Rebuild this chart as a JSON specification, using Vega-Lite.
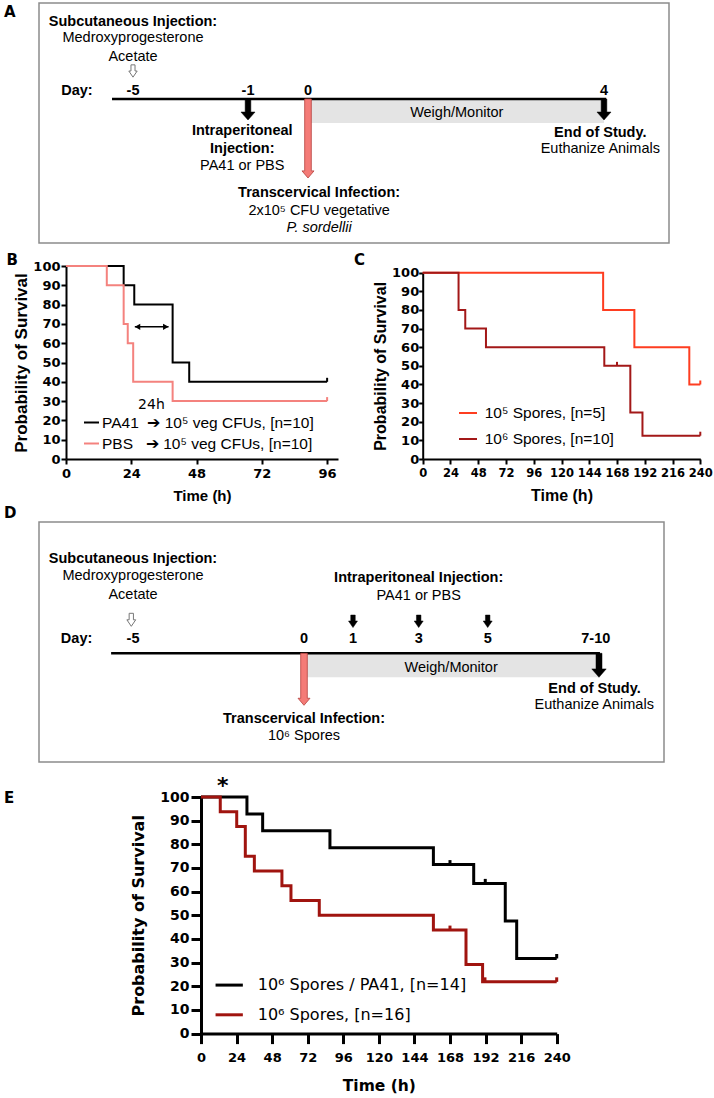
{
"$schema": "https://vega.github.io/schema/vega-lite/v6.json",
"background": "white",
"padding": {"left": 3, "top": 2, "right": 0, "bottom": 0},
"config": {
  "font": "Liberation Sans",
  "view": {"stroke": null},
  "axis": {"grid": false, "domainColor": "black", "tickColor": "black", "labelColor": "black", "titleColor": "black", "labelFlush": false, "labelOverlap": false, "labelBound": false},
  "axisY": {"labelOverlap": false},
  "axisQuantitative": {"labelOverlap": false},
  "legend": {"labelColor": "black"}
},
"datasets": {
  "a_band": [{"d1": 0.04, "d2": 4.0, "v1": 97, "v2": 120}],
  "a_line": [{"d1": -5.73, "d2": 4.03, "v": 96}],
  "a_arrows": [
    {"day": -5, "v": 68, "kind": "open"},
    {"day": -1, "v": 106.5, "kind": "solid"},
    {"day": 4, "v": 106.5, "kind": "solid"},
    {"day": 0, "v": 135.5, "kind": "infection"}
  ],
  "a_text": [
    {"day": -5, "v": 23, "label": "Subcutaneous Injection:", "kind": "bold"},
    {"day": -6.95, "v": 92, "label": "Day:", "kind": "bold"},
    {"day": -5, "v": 92, "label": "-5", "kind": "bold"},
    {"day": -1, "v": 92, "label": "-1", "kind": "bold"},
    {"day": 0, "v": 92, "label": "0", "kind": "bold"},
    {"day": 4, "v": 92, "label": "4", "kind": "bold"},
    {"day": -1.2, "v": 132, "label": "Intraperitoneal", "kind": "bold"},
    {"day": -1.2, "v": 150, "label": "Injection:", "kind": "bold"},
    {"day": 0.15, "v": 194, "label": "Transcervical Infection:", "kind": "bold"},
    {"day": 3.95, "v": 134, "label": "End of Study.", "kind": "bold"},
    {"day": -5, "v": 38.5, "label": "Medroxyprogesterone", "kind": "plain"},
    {"day": -5, "v": 58, "label": "Acetate", "kind": "plain"},
    {"day": -1.2, "v": 167, "label": "PA41 or PBS", "kind": "plain"},
    {"day": 0.15, "v": 212, "label": "2x10⁵ CFU vegetative", "kind": "plain"},
    {"day": 3.95, "v": 150, "label": "Euthanize Animals", "kind": "plain"},
    {"day": 2.01, "v": 114, "label": "Weigh/Monitor", "kind": "plain"},
    {"day": 0.15, "v": 229, "label": "P. sordellii", "kind": "italic"},
    {"day": -9.49, "v": 14, "label": "A", "kind": "panel"}
  ],
  "d_band": [{"d1": 0.06, "d2": 8.5, "v1": 131.3, "v2": 155.3}],
  "d_line": [{"d1": -5.64, "d2": 8.53, "v": 131.3}],
  "d_arrows": [
    {"day": -5.05, "v": 97.8, "kind": "open"},
    {"day": 1, "v": 99.3, "kind": "small"},
    {"day": 3, "v": 99.3, "kind": "small"},
    {"day": 5, "v": 99.3, "kind": "small"},
    {"day": 8.5, "v": 143.3, "kind": "solid"},
    {"day": 0, "v": 157.3, "kind": "infection"}
  ],
  "d_text": [
    {"day": -5, "v": 41.3, "label": "Subcutaneous Injection:", "kind": "bold"},
    {"day": -6.65, "v": 121.3, "label": "Day:", "kind": "bold"},
    {"day": -5, "v": 121.3, "label": "-5", "kind": "bold"},
    {"day": 0, "v": 121.3, "label": "0", "kind": "bold"},
    {"day": 1, "v": 121.3, "label": "1", "kind": "bold"},
    {"day": 3, "v": 121.3, "label": "3", "kind": "bold"},
    {"day": 5, "v": 121.3, "label": "5", "kind": "bold"},
    {"day": 8.4, "v": 121.3, "label": "7-10", "kind": "bold"},
    {"day": 3, "v": 60, "label": "Intraperitoneal Injection:", "kind": "bold"},
    {"day": 8.36, "v": 171.3, "label": "End of Study.", "kind": "bold"},
    {"day": 0, "v": 201.3, "label": "Transcervical Infection:", "kind": "bold"},
    {"day": -5, "v": 58.3, "label": "Medroxyprogesterone", "kind": "plain"},
    {"day": -5, "v": 76.8, "label": "Acetate", "kind": "plain"},
    {"day": 3, "v": 78.3, "label": "PA41 or PBS", "kind": "plain"},
    {"day": 3.94, "v": 150.3, "label": "Weigh/Monitor", "kind": "plain"},
    {"day": 8.35, "v": 187.3, "label": "Euthanize Animals", "kind": "plain"},
    {"day": 0, "v": 218.3, "label": "10⁶ Spores", "kind": "plain"},
    {"day": -8.77, "v": -3.7, "label": "D", "kind": "panel"}
  ],
  "b_curves": [
    {"series": "PA41\u00a0\u00a0➔ 10⁵ veg CFUs, [n=10]", "t": 0, "s": 100},
    {"series": "PA41\u00a0\u00a0➔ 10⁵ veg CFUs, [n=10]", "t": 21.2, "s": 90},
    {"series": "PA41\u00a0\u00a0➔ 10⁵ veg CFUs, [n=10]", "t": 25.1, "s": 80},
    {"series": "PA41\u00a0\u00a0➔ 10⁵ veg CFUs, [n=10]", "t": 39.2, "s": 50},
    {"series": "PA41\u00a0\u00a0➔ 10⁵ veg CFUs, [n=10]", "t": 45.3, "s": 40},
    {"series": "PA41\u00a0\u00a0➔ 10⁵ veg CFUs, [n=10]", "t": 96, "s": 40},
    {"series": "\u00a0PBS\u00a0\u00a0\u00a0➔ 10⁵ veg CFUs, [n=10]", "t": 0, "s": 100},
    {"series": "\u00a0PBS\u00a0\u00a0\u00a0➔ 10⁵ veg CFUs, [n=10]", "t": 15, "s": 90},
    {"series": "\u00a0PBS\u00a0\u00a0\u00a0➔ 10⁵ veg CFUs, [n=10]", "t": 21.2, "s": 70},
    {"series": "\u00a0PBS\u00a0\u00a0\u00a0➔ 10⁵ veg CFUs, [n=10]", "t": 22.7, "s": 60},
    {"series": "\u00a0PBS\u00a0\u00a0\u00a0➔ 10⁵ veg CFUs, [n=10]", "t": 24.7, "s": 40},
    {"series": "\u00a0PBS\u00a0\u00a0\u00a0➔ 10⁵ veg CFUs, [n=10]", "t": 39.2, "s": 30},
    {"series": "\u00a0PBS\u00a0\u00a0\u00a0➔ 10⁵ veg CFUs, [n=10]", "t": 96, "s": 30}
  ],
  "b_censor": [
    {"series": "PA41\u00a0\u00a0➔ 10⁵ veg CFUs, [n=10]", "t": 96, "s": 40},
    {"series": "\u00a0PBS\u00a0\u00a0\u00a0➔ 10⁵ veg CFUs, [n=10]", "t": 96, "s": 30}
  ],
  "b_span": [{"t": 25.3, "t2": 37.7, "s": 68.5}],
  "b_heads": [{"t": 26.3, "s": 68.5, "dir": "left"}, {"t": 36.7, "s": 68.5, "dir": "right"}],
  "b_notes": [{"t": 31.4, "s": 25.9, "label": "24h"}],
  "b_panel": [{"t": -21.9, "s": 100.5, "label": "B"}],
  "c_curves": [
    {"series": "10⁵ Spores, [n=5]", "t": 0, "s": 100},
    {"series": "10⁵ Spores, [n=5]", "t": 156, "s": 80},
    {"series": "10⁵ Spores, [n=5]", "t": 183, "s": 60},
    {"series": "10⁵ Spores, [n=5]", "t": 230.5, "s": 40},
    {"series": "10⁵ Spores, [n=5]", "t": 240, "s": 40},
    {"series": "10⁶ Spores, [n=10]", "t": 0, "s": 100},
    {"series": "10⁶ Spores, [n=10]", "t": 31, "s": 80},
    {"series": "10⁶ Spores, [n=10]", "t": 36.8, "s": 70},
    {"series": "10⁶ Spores, [n=10]", "t": 54.7, "s": 60},
    {"series": "10⁶ Spores, [n=10]", "t": 157, "s": 50},
    {"series": "10⁶ Spores, [n=10]", "t": 179.5, "s": 25},
    {"series": "10⁶ Spores, [n=10]", "t": 190, "s": 12.5},
    {"series": "10⁶ Spores, [n=10]", "t": 240, "s": 12.5}
  ],
  "c_censor": [
    {"series": "10⁵ Spores, [n=5]", "t": 240, "s": 40},
    {"series": "10⁶ Spores, [n=10]", "t": 168, "s": 50},
    {"series": "10⁶ Spores, [n=10]", "t": 240, "s": 12.5}
  ],
  "c_panel": [{"t": -59.4, "s": 104.1, "label": "C"}],
  "e_curves": [
    {"series": "10⁶ Spores / PA41, [n=14]", "t": 0, "s": 100},
    {"series": "10⁶ Spores / PA41, [n=14]", "t": 31, "s": 92.86},
    {"series": "10⁶ Spores / PA41, [n=14]", "t": 41.6, "s": 85.71},
    {"series": "10⁶ Spores / PA41, [n=14]", "t": 87, "s": 78.57},
    {"series": "10⁶ Spores / PA41, [n=14]", "t": 156.8, "s": 71.43},
    {"series": "10⁶ Spores / PA41, [n=14]", "t": 184, "s": 63.49},
    {"series": "10⁶ Spores / PA41, [n=14]", "t": 205.3, "s": 47.62},
    {"series": "10⁶ Spores / PA41, [n=14]", "t": 213, "s": 31.75},
    {"series": "10⁶ Spores / PA41, [n=14]", "t": 240, "s": 31.75},
    {"series": "10⁶ Spores, [n=16]", "t": 0, "s": 100},
    {"series": "10⁶ Spores, [n=16]", "t": 13, "s": 93.75},
    {"series": "10⁶ Spores, [n=16]", "t": 24.1, "s": 87.5},
    {"series": "10⁶ Spores, [n=16]", "t": 29.9, "s": 75},
    {"series": "10⁶ Spores, [n=16]", "t": 36, "s": 68.75},
    {"series": "10⁶ Spores, [n=16]", "t": 54.6, "s": 62.5},
    {"series": "10⁶ Spores, [n=16]", "t": 60.7, "s": 56.25},
    {"series": "10⁶ Spores, [n=16]", "t": 79.8, "s": 50},
    {"series": "10⁶ Spores, [n=16]", "t": 156.8, "s": 43.75},
    {"series": "10⁶ Spores, [n=16]", "t": 178.8, "s": 29.17},
    {"series": "10⁶ Spores, [n=16]", "t": 190, "s": 21.88},
    {"series": "10⁶ Spores, [n=16]", "t": 240, "s": 21.88}
  ],
  "e_censor": [
    {"series": "10⁶ Spores / PA41, [n=14]", "t": 168, "s": 71.43},
    {"series": "10⁶ Spores / PA41, [n=14]", "t": 191.8, "s": 63.49},
    {"series": "10⁶ Spores / PA41, [n=14]", "t": 240, "s": 31.75},
    {"series": "10⁶ Spores, [n=16]", "t": 168, "s": 43.75},
    {"series": "10⁶ Spores, [n=16]", "t": 191.6, "s": 21.88},
    {"series": "10⁶ Spores, [n=16]", "t": 240, "s": 21.88}
  ],
  "e_notes": [{"t": 14.6, "s": 101.6, "label": "*"}],
  "e_panel": [{"t": -132.9, "s": 97.5, "label": "E"}]
},
"bounds": "flush",
"spacing": 0,
"resolve": {"scale": {"color": "independent"}},
"vconcat": [
  {
    "width": 630, "height": 240,
    "view": {"stroke": "#8c8c8c", "strokeWidth": 1.5},
    "layer": [
      {"data": {"name": "a_band"}, "mark": {"type": "rect", "color": "#e4e4e4"},
       "encoding": {
         "x": {"field": "d1", "type": "quantitative", "scale": {"domain": [-5, -1, 0, 4], "range": [94, 209, 269, 565]}, "axis": null},
         "x2": {"field": "d2"},
         "y": {"field": "v1", "type": "quantitative", "scale": {"domain": [0, 240], "reverse": true}, "axis": null},
         "y2": {"field": "v2"}}},
      {"data": {"name": "a_line"}, "mark": {"type": "rule", "strokeWidth": 2.5, "color": "black"},
       "encoding": {
         "x": {"field": "d1", "type": "quantitative", "scale": {"domain": [-5, -1, 0, 4], "range": [94, 209, 269, 565]}, "axis": null},
         "x2": {"field": "d2"},
         "y": {"field": "v", "type": "quantitative", "scale": {"domain": [0, 240], "reverse": true}, "axis": null}}},
      {"data": {"name": "a_arrows"}, "transform": [{"filter": "datum.kind === 'open'"}],
       "mark": {"type": "point", "shape": "M-0.33,-1L0.33,-1L0.33,0L0.68,0L0,1L-0.68,0L-0.33,0Z", "size": 151, "filled": true, "fill": "white", "stroke": "#777777", "strokeWidth": 1, "opacity": 1},
       "encoding": {
         "x": {"field": "day", "type": "quantitative", "scale": {"domain": [-5, -1, 0, 4], "range": [94, 209, 269, 565]}, "axis": null},
         "y": {"field": "v", "type": "quantitative", "scale": {"domain": [0, 240], "reverse": true}, "axis": null}}},
      {"data": {"name": "a_arrows"}, "transform": [{"filter": "datum.kind === 'solid'"}],
       "mark": {"type": "point", "shape": "M-0.27,-1L0.27,-1L0.27,0.24L0.67,0.24L0,1L-0.67,0.24L-0.27,0.24Z", "size": 441, "filled": true, "fill": "black", "stroke": "black", "strokeWidth": 0.5, "opacity": 1},
       "encoding": {
         "x": {"field": "day", "type": "quantitative", "scale": {"domain": [-5, -1, 0, 4], "range": [94, 209, 269, 565]}, "axis": null},
         "y": {"field": "v", "type": "quantitative", "scale": {"domain": [0, 240], "reverse": true}, "axis": null}}},
      {"data": {"name": "a_arrows"}, "transform": [{"filter": "datum.kind === 'infection'"}],
       "mark": {"type": "point", "shape": "M-0.084,-1L0.084,-1L0.084,0.82L0.152,0.82L0,1L-0.152,0.82L-0.084,0.82Z", "size": 6241, "filled": true, "fill": "#f47b77", "stroke": "#b5413d", "strokeWidth": 0.8, "opacity": 1},
       "encoding": {
         "x": {"field": "day", "type": "quantitative", "scale": {"domain": [-5, -1, 0, 4], "range": [94, 209, 269, 565]}, "axis": null},
         "y": {"field": "v", "type": "quantitative", "scale": {"domain": [0, 240], "reverse": true}, "axis": null}}},
      {"data": {"name": "a_text"}, "transform": [{"filter": "datum.kind === 'bold'"}],
       "mark": {"type": "text", "fontSize": 14.5, "fontWeight": "bold", "align": "center", "baseline": "alphabetic", "color": "black"},
       "encoding": {
         "x": {"field": "day", "type": "quantitative", "scale": {"domain": [-5, -1, 0, 4], "range": [94, 209, 269, 565]}, "axis": null},
         "y": {"field": "v", "type": "quantitative", "scale": {"domain": [0, 240], "reverse": true}, "axis": null},
         "text": {"field": "label"}}},
      {"data": {"name": "a_text"}, "transform": [{"filter": "datum.kind === 'plain'"}],
       "mark": {"type": "text", "fontSize": 14.5, "align": "center", "baseline": "alphabetic", "color": "black"},
       "encoding": {
         "x": {"field": "day", "type": "quantitative", "scale": {"domain": [-5, -1, 0, 4], "range": [94, 209, 269, 565]}, "axis": null},
         "y": {"field": "v", "type": "quantitative", "scale": {"domain": [0, 240], "reverse": true}, "axis": null},
         "text": {"field": "label"}}},
      {"data": {"name": "a_text"}, "transform": [{"filter": "datum.kind === 'italic'"}],
       "mark": {"type": "text", "fontSize": 14.5, "fontStyle": "italic", "align": "center", "baseline": "alphabetic", "color": "black"},
       "encoding": {
         "x": {"field": "day", "type": "quantitative", "scale": {"domain": [-5, -1, 0, 4], "range": [94, 209, 269, 565]}, "axis": null},
         "y": {"field": "v", "type": "quantitative", "scale": {"domain": [0, 240], "reverse": true}, "axis": null},
         "text": {"field": "label"}}},
      {"data": {"name": "a_text"}, "transform": [{"filter": "datum.kind === 'panel'"}],
       "mark": {"type": "text", "font": "DejaVu Sans", "fontSize": 15, "fontWeight": "bold", "align": "left", "baseline": "alphabetic", "color": "black"},
       "encoding": {
         "x": {"field": "day", "type": "quantitative", "scale": {"domain": [-5, -1, 0, 4], "range": [94, 209, 269, 565]}, "axis": null},
         "y": {"field": "v", "type": "quantitative", "scale": {"domain": [0, 240], "reverse": true}, "axis": null},
         "text": {"field": "label"}}}
    ]
  },
  {
    "width": 661.3, "height": 278.7,
    "resolve": {"scale": {"x": "independent", "y": "independent", "color": "independent"}, "axis": {"x": "independent", "y": "independent"}, "legend": {"color": "independent"}},
    "layer": [
      {"layer": [
        {"data": {"name": "b_curves"},
         "mark": {"type": "line", "interpolate": "step-after", "strokeWidth": 2},
         "encoding": {
           "x": {"field": "t", "type": "quantitative", "scale": {"domain": [0, 96], "range": [27, 299]},
                 "axis": {"orient": "bottom", "offset": -62.7, "values": [0, 24, 48, 72, 96], "title": "Time (h)", "titleFontSize": 15, "titleFontWeight": "bold", "titlePadding": 8, "labelFont": "DejaVu Sans", "labelFontSize": 13, "labelFontWeight": "bold", "labelPadding": 3, "labelOverlap": false, "tickSize": 5, "tickWidth": 2, "domainWidth": 2}},
           "y": {"field": "s", "type": "quantitative", "scale": {"domain": [0, 100], "range": [216, 23]},
                 "axis": {"orient": "left", "offset": -27, "values": [0, 10, 20, 30, 40, 50, 60, 70, 80, 90, 100], "tickCount": 11, "title": "Probability of Survival", "titleFontSize": 17, "titleFontWeight": "bold", "titlePadding": 2, "labelFont": "DejaVu Sans", "labelFontSize": 13, "labelFontWeight": "bold", "labelPadding": 1, "labelOverlap": false, "labelSeparation": 0, "tickSize": 5, "tickWidth": 2, "domainWidth": 2}},
           "color": {"field": "series", "type": "nominal",
                     "scale": {"domain": ["PA41\u00a0\u00a0➔ 10⁵ veg CFUs, [n=10]", "\u00a0PBS\u00a0\u00a0\u00a0➔ 10⁵ veg CFUs, [n=10]"], "range": ["#000000", "#f4827e"]},
                     "legend": {"orient": "none", "legendX": 44, "legendY": 171, "title": null, "symbolType": "stroke", "symbolSize": 225, "symbolStrokeWidth": 2, "labelFont": "Liberation Sans", "labelFontSize": 15.5, "labelOffset": 2, "rowPadding": 4, "padding": 0, "labelLimit": 0}}}},
        {"data": {"name": "b_censor"},
         "mark": {"type": "point", "shape": "M0,-1L0,0", "size": 64, "strokeWidth": 2, "filled": false, "opacity": 1},
         "encoding": {
           "x": {"field": "t", "type": "quantitative"},
           "y": {"field": "s", "type": "quantitative"},
           "color": {"field": "series", "type": "nominal"}}},
        {"data": {"name": "b_span"},
         "mark": {"type": "rule", "strokeWidth": 1.5, "color": "black"},
         "encoding": {
           "x": {"field": "t", "type": "quantitative"},
           "x2": {"field": "t2"},
           "y": {"field": "s", "type": "quantitative"}}},
        {"data": {"name": "b_heads"}, "transform": [{"filter": "datum.dir === 'left'"}],
         "mark": {"type": "point", "shape": "triangle-left", "size": 40, "filled": true, "color": "black", "opacity": 1},
         "encoding": {
           "x": {"field": "t", "type": "quantitative"},
           "y": {"field": "s", "type": "quantitative"}}},
        {"data": {"name": "b_heads"}, "transform": [{"filter": "datum.dir === 'right'"}],
         "mark": {"type": "point", "shape": "triangle-right", "size": 40, "filled": true, "color": "black", "opacity": 1},
         "encoding": {
           "x": {"field": "t", "type": "quantitative"},
           "y": {"field": "s", "type": "quantitative"}}},
        {"data": {"name": "b_notes"},
         "mark": {"type": "text", "font": "DejaVu Sans", "fontSize": 14, "align": "center", "baseline": "alphabetic", "color": "black"},
         "encoding": {
           "x": {"field": "t", "type": "quantitative"},
           "y": {"field": "s", "type": "quantitative"},
           "text": {"field": "label"}}},
        {"data": {"name": "b_panel"},
         "mark": {"type": "text", "font": "DejaVu Sans", "fontSize": 15, "fontWeight": "bold", "align": "left", "baseline": "alphabetic", "color": "black"},
         "encoding": {
           "x": {"field": "t", "type": "quantitative"},
           "y": {"field": "s", "type": "quantitative"},
           "text": {"field": "label"}}}
      ]},
      {"layer": [
        {"data": {"name": "c_curves"},
         "mark": {"type": "line", "interpolate": "step-after", "strokeWidth": 2},
         "encoding": {
           "x": {"field": "t", "type": "quantitative", "scale": {"domain": [0, 240], "range": [383.7, 661.3]},
                 "axis": {"orient": "bottom", "offset": -62.7, "values": [0, 24, 48, 72, 96, 120, 144, 168, 192, 216, 240], "title": "Time (h)", "titleFontSize": 16, "titleFontWeight": "bold", "titlePadding": 8.5, "labelFont": "DejaVu Sans", "labelFontSize": 11.5, "labelFontWeight": "bold", "labelPadding": 3.5, "labelOverlap": false, "tickSize": 5, "tickWidth": 2, "domainWidth": 2}},
           "y": {"field": "s", "type": "quantitative", "scale": {"domain": [0, 100], "range": [216, 29.7]},
                 "axis": {"orient": "left", "offset": -383.7, "values": [0, 10, 20, 30, 40, 50, 60, 70, 80, 90, 100], "tickCount": 11, "title": "Probability of Survival", "titleFontSize": 16, "titleFontWeight": "bold", "titlePadding": 3, "labelFont": "DejaVu Sans", "labelFontSize": 13, "labelFontWeight": "bold", "labelPadding": 0, "labelOverlap": false, "labelSeparation": 0, "tickSize": 4, "tickWidth": 2, "domainWidth": 2}},
           "color": {"field": "series", "type": "nominal",
                     "scale": {"domain": ["10⁵ Spores, [n=5]", "10⁶ Spores, [n=10]"], "range": ["#fe3d20", "#a31818"]},
                     "legend": {"orient": "none", "legendX": 419, "legendY": 160, "title": null, "symbolType": "stroke", "symbolSize": 324, "symbolStrokeWidth": 2, "labelFont": "Liberation Sans", "labelFontSize": 15.5, "labelOffset": 6.7, "rowPadding": 7, "padding": 0, "labelLimit": 0}}}},
        {"data": {"name": "c_censor"},
         "mark": {"type": "point", "shape": "M0,-1L0,0", "size": 64, "strokeWidth": 2, "filled": false, "opacity": 1},
         "encoding": {
           "x": {"field": "t", "type": "quantitative"},
           "y": {"field": "s", "type": "quantitative"},
           "color": {"field": "series", "type": "nominal"}}},
        {"data": {"name": "c_panel"},
         "mark": {"type": "text", "font": "DejaVu Sans", "fontSize": 15, "fontWeight": "bold", "align": "left", "baseline": "alphabetic", "color": "black"},
         "encoding": {
           "x": {"field": "t", "type": "quantitative"},
           "y": {"field": "s", "type": "quantitative"},
           "text": {"field": "label"}}}
      ]}
    ]
  },
  {
    "width": 625, "height": 240,
    "view": {"stroke": "#8c8c8c", "strokeWidth": 1.5},
    "layer": [
      {"data": {"name": "d_band"}, "mark": {"type": "rect", "color": "#e4e4e4"},
       "encoding": {
         "x": {"field": "d1", "type": "quantitative", "scale": {"domain": [-5, 0, 1, 3, 5, 8.5], "range": [94, 265, 314, 379.7, 448.7, 560]}, "axis": null},
         "x2": {"field": "d2"},
         "y": {"field": "v1", "type": "quantitative", "scale": {"domain": [0, 240], "reverse": true}, "axis": null},
         "y2": {"field": "v2"}}},
      {"data": {"name": "d_line"}, "mark": {"type": "rule", "strokeWidth": 2.5, "color": "black"},
       "encoding": {
         "x": {"field": "d1", "type": "quantitative", "scale": {"domain": [-5, 0, 1, 3, 5, 8.5], "range": [94, 265, 314, 379.7, 448.7, 560]}, "axis": null},
         "x2": {"field": "d2"},
         "y": {"field": "v", "type": "quantitative", "scale": {"domain": [0, 240], "reverse": true}, "axis": null}}},
      {"data": {"name": "d_arrows"}, "transform": [{"filter": "datum.kind === 'open'"}],
       "mark": {"type": "point", "shape": "M-0.33,-1L0.33,-1L0.33,0L0.68,0L0,1L-0.68,0L-0.33,0Z", "size": 169, "filled": true, "fill": "white", "stroke": "#777777", "strokeWidth": 1, "opacity": 1},
       "encoding": {
         "x": {"field": "day", "type": "quantitative", "scale": {"domain": [-5, 0, 1, 3, 5, 8.5], "range": [94, 265, 314, 379.7, 448.7, 560]}, "axis": null},
         "y": {"field": "v", "type": "quantitative", "scale": {"domain": [0, 240], "reverse": true}, "axis": null}}},
      {"data": {"name": "d_arrows"}, "transform": [{"filter": "datum.kind === 'small'"}],
       "mark": {"type": "point", "shape": "M-0.36,-1L0.36,-1L0.36,-0.05L0.72,-0.05L0,1L-0.72,-0.05L-0.36,-0.05Z", "size": 156, "filled": true, "fill": "black", "stroke": "black", "strokeWidth": 0.5, "opacity": 1},
       "encoding": {
         "x": {"field": "day", "type": "quantitative", "scale": {"domain": [-5, 0, 1, 3, 5, 8.5], "range": [94, 265, 314, 379.7, 448.7, 560]}, "axis": null},
         "y": {"field": "v", "type": "quantitative", "scale": {"domain": [0, 240], "reverse": true}, "axis": null}}},
      {"data": {"name": "d_arrows"}, "transform": [{"filter": "datum.kind === 'solid'"}],
       "mark": {"type": "point", "shape": "M-0.25,-1L0.25,-1L0.25,0.3L0.6,0.3L0,1L-0.6,0.3L-0.25,0.3Z", "size": 576, "filled": true, "fill": "black", "stroke": "black", "strokeWidth": 0.5, "opacity": 1},
       "encoding": {
         "x": {"field": "day", "type": "quantitative", "scale": {"domain": [-5, 0, 1, 3, 5, 8.5], "range": [94, 265, 314, 379.7, 448.7, 560]}, "axis": null},
         "y": {"field": "v", "type": "quantitative", "scale": {"domain": [0, 240], "reverse": true}, "axis": null}}},
      {"data": {"name": "d_arrows"}, "transform": [{"filter": "datum.kind === 'infection'"}],
       "mark": {"type": "point", "shape": "M-0.127,-1L0.127,-1L0.127,0.73L0.23,0.73L0,1L-0.23,0.73L-0.127,0.73Z", "size": 2704, "filled": true, "fill": "#f47b77", "stroke": "#b5413d", "strokeWidth": 0.8, "opacity": 1},
       "encoding": {
         "x": {"field": "day", "type": "quantitative", "scale": {"domain": [-5, 0, 1, 3, 5, 8.5], "range": [94, 265, 314, 379.7, 448.7, 560]}, "axis": null},
         "y": {"field": "v", "type": "quantitative", "scale": {"domain": [0, 240], "reverse": true}, "axis": null}}},
      {"data": {"name": "d_text"}, "transform": [{"filter": "datum.kind === 'bold'"}],
       "mark": {"type": "text", "fontSize": 14.5, "fontWeight": "bold", "align": "center", "baseline": "alphabetic", "color": "black"},
       "encoding": {
         "x": {"field": "day", "type": "quantitative", "scale": {"domain": [-5, 0, 1, 3, 5, 8.5], "range": [94, 265, 314, 379.7, 448.7, 560]}, "axis": null},
         "y": {"field": "v", "type": "quantitative", "scale": {"domain": [0, 240], "reverse": true}, "axis": null},
         "text": {"field": "label"}}},
      {"data": {"name": "d_text"}, "transform": [{"filter": "datum.kind === 'plain'"}],
       "mark": {"type": "text", "fontSize": 14.5, "align": "center", "baseline": "alphabetic", "color": "black"},
       "encoding": {
         "x": {"field": "day", "type": "quantitative", "scale": {"domain": [-5, 0, 1, 3, 5, 8.5], "range": [94, 265, 314, 379.7, 448.7, 560]}, "axis": null},
         "y": {"field": "v", "type": "quantitative", "scale": {"domain": [0, 240], "reverse": true}, "axis": null},
         "text": {"field": "label"}}},
      {"data": {"name": "d_text"}, "transform": [{"filter": "datum.kind === 'panel'"}],
       "mark": {"type": "text", "font": "DejaVu Sans", "fontSize": 15, "fontWeight": "bold", "align": "left", "baseline": "alphabetic", "color": "black"},
       "encoding": {
         "x": {"field": "day", "type": "quantitative", "scale": {"domain": [-5, 0, 1, 3, 5, 8.5], "range": [94, 265, 314, 379.7, 448.7, 560]}, "axis": null},
         "y": {"field": "v", "type": "quantitative", "scale": {"domain": [0, 240], "reverse": true}, "axis": null},
         "text": {"field": "label"}}}
    ]
  },
  {
    "width": 517.7, "height": 271.6,
    "layer": [
      {"data": {"name": "e_curves"},
       "mark": {"type": "line", "interpolate": "step-after", "strokeWidth": 3},
       "encoding": {
         "x": {"field": "t", "type": "quantitative", "scale": {"domain": [0, 240], "range": [162, 517.7]},
               "axis": {"values": [0, 24, 48, 72, 96, 120, 144, 168, 192, 216, 240], "title": "Time (h)", "titleFont": "DejaVu Sans", "titleFontSize": 15.5, "titleFontWeight": "bold", "titlePadding": 14, "labelFont": "DejaVu Sans", "labelFontSize": 13, "labelFontWeight": "bold", "labelPadding": 7.5, "labelOverlap": false, "tickSize": 10, "tickWidth": 3, "domainWidth": 3}},
         "y": {"field": "s", "type": "quantitative", "scale": {"domain": [0, 100], "range": [271.6, 35]},
               "axis": {"values": [0, 10, 20, 30, 40, 50, 60, 70, 80, 90, 100], "tickCount": 11, "offset": -162, "title": "Probability of Survival", "titleFont": "DejaVu Sans", "titleFontSize": 16, "titleFontWeight": "bold", "titlePadding": 13, "labelFont": "DejaVu Sans", "labelFontSize": 14, "labelFontWeight": "bold", "labelPadding": 2, "labelOverlap": false, "labelSeparation": 0, "tickSize": 10, "tickWidth": 3, "domainWidth": 3}},
         "color": {"field": "series", "type": "nominal",
                   "scale": {"domain": ["10⁶ Spores / PA41, [n=14]", "10⁶ Spores, [n=16]"], "range": ["#000000", "#a0140f"]},
                   "legend": {"orient": "none", "legendX": 174.7, "legendY": 207.6, "title": null, "symbolType": "stroke", "symbolSize": 745, "symbolStrokeWidth": 3, "labelFont": "DejaVu Sans", "labelFontSize": 16, "labelOffset": 13, "rowPadding": 5.7, "padding": 0, "labelLimit": 0}}}},
      {"data": {"name": "e_censor"},
       "mark": {"type": "point", "shape": "M0,-1L0,0", "size": 81, "strokeWidth": 3, "filled": false, "opacity": 1},
       "encoding": {
         "x": {"field": "t", "type": "quantitative"},
         "y": {"field": "s", "type": "quantitative"},
         "color": {"field": "series", "type": "nominal"}}},
      {"data": {"name": "e_notes"},
       "mark": {"type": "text", "font": "DejaVu Sans", "fontSize": 22, "fontWeight": "bold", "align": "center", "baseline": "alphabetic", "color": "black"},
       "encoding": {
         "x": {"field": "t", "type": "quantitative"},
         "y": {"field": "s", "type": "quantitative"},
         "text": {"field": "label"}}},
      {"data": {"name": "e_panel"},
       "mark": {"type": "text", "font": "DejaVu Sans", "fontSize": 15, "fontWeight": "bold", "align": "left", "baseline": "alphabetic", "color": "black"},
       "encoding": {
         "x": {"field": "t", "type": "quantitative"},
         "y": {"field": "s", "type": "quantitative"},
         "text": {"field": "label"}}}
    ]
  }
]
}
